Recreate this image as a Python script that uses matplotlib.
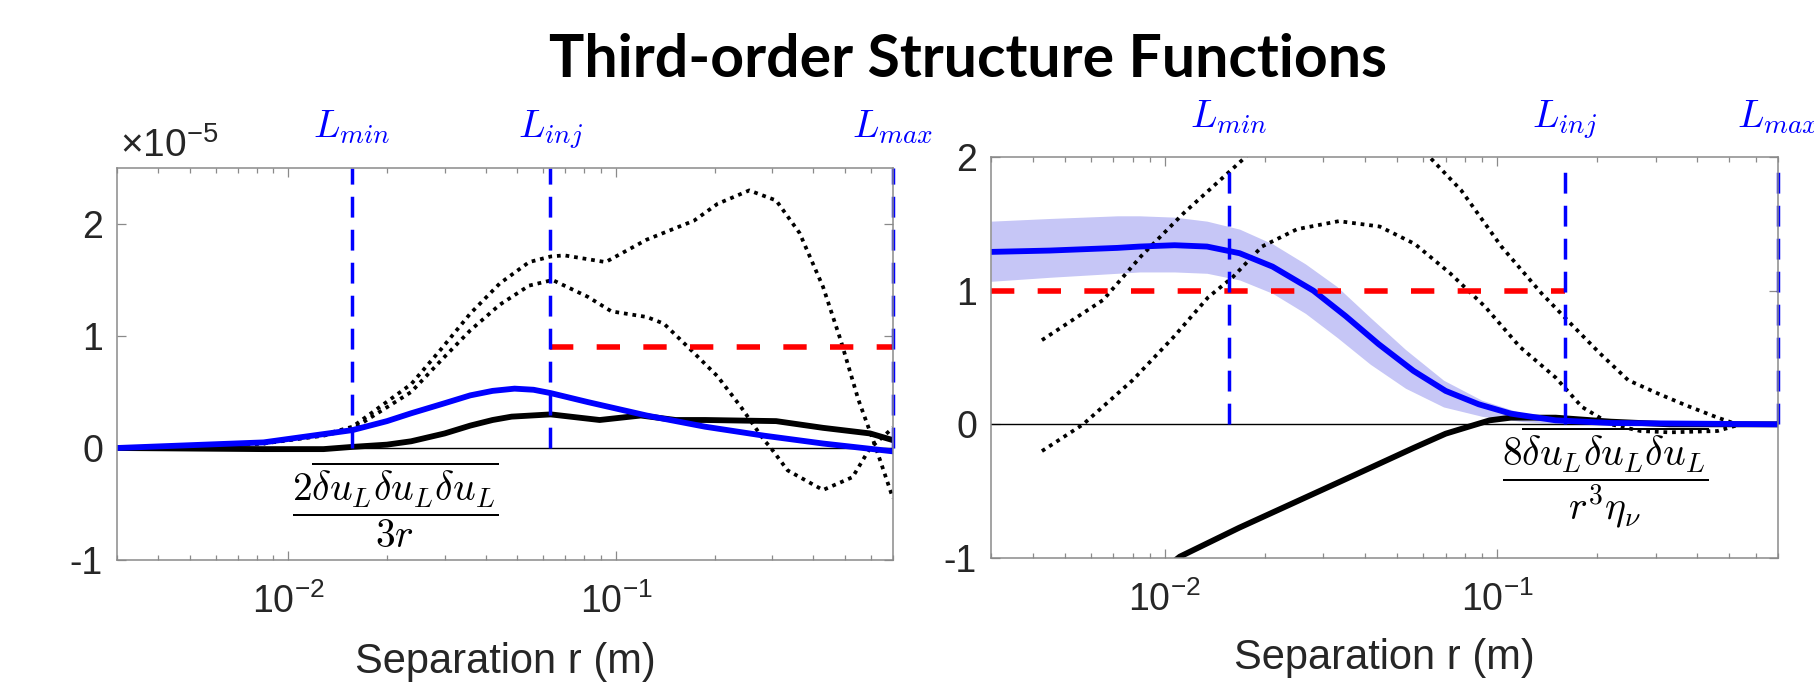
import numpy as np
import matplotlib

matplotlib.use("Agg")
import matplotlib.pyplot as plt
from matplotlib.ticker import FixedLocator, LogLocator, NullFormatter
from matplotlib.transforms import Bbox, TransformedBbox, blended_transform_factory

plt.rcParams["font.family"] = ["Liberation Sans", "DejaVu Sans"]
plt.rcParams["mathtext.fontset"] = "cm"

W, H = 1815, 686

# ── data ────────────────────────────────────────────────────────────────────
TITLE = "Third-order Structure Functions"
XLABEL = "Separation r (m)"
XLIM = (0.003, 0.70)
XTICKS = [1e-2, 1e-1]
XTICKLABELS = [r"$\mathregular{10^{-2}}$", r"$\mathregular{10^{-1}}$"]
L_NAMES = [r"$L_{min}$", r"$L_{inj}$", r"$L_{max}$"]

# left panel (values in units of 1e-5)
L_SCALES = [0.0156, 0.063, 0.70]
left_red_level = 0.9
left_blue_x = [0.0030, 0.0084, 0.0157, 0.0200, 0.0237, 0.0300, 0.0359, 0.0420,
               0.0490, 0.0560, 0.0632, 0.0820, 0.124, 0.187, 0.283, 0.428, 0.70]
left_blue_y = [0.00, 0.05, 0.16, 0.24, 0.31, 0.40, 0.47, 0.51,
               0.53, 0.52, 0.49, 0.41, 0.29, 0.19, 0.11, 0.04, -0.03]
left_black_x = [0.0030, 0.0084, 0.0128, 0.0157, 0.0200, 0.0237, 0.0300, 0.0359,
                0.0420, 0.0480, 0.0632, 0.0891, 0.119, 0.152, 0.187, 0.308,
                0.428, 0.596, 0.70]
left_black_y = [0.00, -0.01, -0.01, 0.01, 0.03, 0.06, 0.13, 0.20,
                0.25, 0.28, 0.30, 0.25, 0.29, 0.25, 0.25, 0.24,
                0.18, 0.13, 0.07]
left_dotA_x = [0.0030, 0.0046, 0.0084, 0.0128, 0.0157, 0.0237, 0.0292, 0.0359,
               0.0442, 0.0543, 0.0632, 0.0695, 0.0929, 0.124, 0.173, 0.204,
               0.255, 0.308, 0.363, 0.428, 0.485, 0.549, 0.621, 0.70]
left_dotA_y = [0.00, 0.01, 0.04, 0.12, 0.19, 0.57, 0.88, 1.20,
               1.47, 1.66, 1.71, 1.72, 1.66, 1.86, 2.03, 2.18,
               2.30, 2.21, 1.92, 1.44, 0.96, 0.43, 0.00, -0.45]
left_dotB_x = [0.0030, 0.0046, 0.0084, 0.0128, 0.0157, 0.0237, 0.0292, 0.0359,
               0.0442, 0.0543, 0.0640, 0.0820, 0.0968, 0.124, 0.140, 0.166,
               0.204, 0.240, 0.283, 0.295, 0.334, 0.428, 0.527, 0.596, 0.70]
left_dotB_y = [0.00, 0.01, 0.04, 0.11, 0.17, 0.50, 0.78, 1.05,
               1.28, 1.45, 1.50, 1.35, 1.22, 1.17, 1.11, 0.90,
               0.64, 0.37, 0.07, 0.01, -0.20, -0.375, -0.26, 0.00, 0.18]

# right panel
R_SCALES = [0.0156, 0.160, 0.70]
right_red_level = 1.0
right_blue_x = [0.0030, 0.0045, 0.0072, 0.0084, 0.0107, 0.0134, 0.0168, 0.0211,
                0.0280, 0.0350, 0.0440, 0.0560, 0.0700, 0.0880, 0.110, 0.150,
                0.220, 0.70]
right_blue_y = [1.29, 1.30, 1.32, 1.33, 1.34, 1.33, 1.28, 1.18,
                1.00, 0.81, 0.60, 0.40, 0.25, 0.15, 0.08, 0.03,
                0.01, 0.00]
band_x = [0.0030, 0.0045, 0.0072, 0.0084, 0.0107, 0.0134, 0.0168, 0.0211,
          0.0265, 0.0330, 0.0415, 0.0530, 0.0690, 0.0900, 0.120, 0.160, 0.25, 0.70]
band_hi = [1.52, 1.54, 1.56, 1.56, 1.55, 1.52, 1.46, 1.35,
           1.20, 1.03, 0.80, 0.56, 0.33, 0.18, 0.08, 0.03, 0.01, 0.00]
band_lo = [1.07, 1.10, 1.13, 1.14, 1.14, 1.13, 1.08, 0.98,
           0.83, 0.65, 0.45, 0.27, 0.13, 0.06, 0.02, 0.00, 0.00, 0.00]
right_black_x = [0.0100, 0.0111, 0.0167, 0.0250, 0.0375, 0.0560, 0.0700, 0.0840,
                 0.0950, 0.110, 0.150, 0.220, 0.330, 0.70]
right_black_y = [-1.08, -0.99, -0.775, -0.576, -0.376, -0.177, -0.07, -0.01,
                 0.03, 0.05, 0.05, 0.02, 0.00, 0.00]
right_dotC_x = [0.00427, 0.00652, 0.0085, 0.0114, 0.0175, 0.0230, 0.0322, 0.0450,
                0.0626, 0.0780, 0.103, 0.136, 0.167, 0.204, 0.248, 0.305, 0.372,
                0.461, 0.520, 0.70]
right_dotC_y = [0.63, 0.93, 1.26, 1.58, 2.00, 2.40, 2.60, 2.40,
                2.00, 1.75, 1.33, 0.98, 0.75, 0.53, 0.33, 0.23, 0.14,
                0.05, 0.005, 0.00]
right_dotD_x = [0.00427, 0.00568, 0.0080, 0.0106, 0.0135, 0.0160, 0.0196, 0.0250,
                0.0334, 0.0443, 0.0565, 0.0722, 0.0920, 0.117, 0.150, 0.180,
                0.220, 0.270, 0.330, 0.460, 0.540, 0.70]
right_dotD_y = [-0.20, 0.00, 0.33, 0.65, 0.95, 1.10, 1.33, 1.46,
                1.52, 1.48, 1.35, 1.13, 0.88, 0.58, 0.35, 0.13,
                0.00, -0.05, -0.06, -0.05, 0.00, 0.00]

BLUE = "#0000ff"
RED = "#ff0000"
BAND = "#c6c6f6"
AXCOL = "#8a8a8a"
TXTCOL = "#262626"


def px_rect(x0, y0, x1, y1):
    return [x0 / W, 1 - y1 / H, (x1 - x0) / W, (y1 - y0) / H]


def style_axes(ax, ylim, yticks):
    ax.set_xscale("log")
    ax.set_xlim(*XLIM)
    ax.set_ylim(*ylim)
    ax.xaxis.set_major_locator(FixedLocator(XTICKS))
    ax.set_xticklabels(XTICKLABELS)
    ax.xaxis.set_minor_locator(LogLocator(base=10, subs=np.arange(2, 10)))
    ax.xaxis.set_minor_formatter(NullFormatter())
    ax.set_yticks(yticks)
    ax.set_yticklabels([str(t) for t in yticks])
    ax.tick_params(which="both", direction="in", top=True, right=True,
                   color=AXCOL, width=0.9, labelcolor=TXTCOL, labelsize=27)
    ax.tick_params(which="major", length=6.5)
    ax.tick_params(which="minor", length=3.6)
    ax.tick_params(axis="y", pad=10)
    ax.tick_params(axis="x", pad=17)
    for sp in ax.spines.values():
        sp.set_color(AXCOL)
        sp.set_linewidth(1.1)


fig = plt.figure(figsize=(W / 100, H / 100), dpi=100)
fig.text(968 / W, 1 - 60 / H, TITLE, ha="center", va="center",
         fontsize=42.5, fontweight="bold", family=["Lato", "DejaVu Sans"])

dot = (0, (1, 1.3))
vdash = (6, 3.5)

# ── left panel ──────────────────────────────────────────────────────────────
ax1 = fig.add_axes(px_rect(117, 168, 893, 560))
style_axes(ax1, (-1, 2.5), [-1, 0, 1, 2])
ax1.axhline(0, color="k", lw=1.0)
ax1.plot(left_dotA_x, left_dotA_y, color="k", lw=2.7, ls=dot)
ax1.plot(left_dotB_x, left_dotB_y, color="k", lw=2.7, ls=dot)
ax1.plot(left_black_x, left_black_y, color="k", lw=4.2, solid_capstyle="round")
ax1.plot(left_blue_x, left_blue_y, color=BLUE, lw=4.2)
ax1.plot([L_SCALES[1], XLIM[1]], [left_red_level] * 2, color=RED, lw=4.0,
         dashes=(4.2, 4.2))
for xv in L_SCALES:
    ax1.plot([xv, xv], [0, 2.5], color=BLUE, lw=2.5, dashes=vdash, clip_on=False)
ax1.set_xlabel(XLABEL, fontsize=30, color=TXTCOL, va="baseline")
ax1.xaxis.set_label_coords(505 / W, 1 - 673 / H, transform=fig.transFigure)

clip = TransformedBbox(Bbox([[0, 0], [933 / W, 1]]), fig.transFigure)
tr1 = blended_transform_factory(ax1.transData, fig.transFigure)
for xv, name in zip(L_SCALES, L_NAMES):
    t = fig.text(xv, 1 - 137 / H, name, transform=tr1, ha="center", va="baseline",
                 fontsize=28, color=BLUE)
    t.set_clip_box(clip)
    t.set_clip_on(True)

fig.text(120 / W, 1 - 157 / H, r"$\mathregular{\times10^{-5}}$", ha="left",
         va="baseline", fontsize=28, color=TXTCOL)
fig.text(395 / W, 1 - 505 / H,
         r"$\dfrac{2\overline{\delta u_L\delta u_L\delta u_L}}{3r}$",
         ha="center", va="center", fontsize=28.5, color="k")

# ── right panel ─────────────────────────────────────────────────────────────
ax2 = fig.add_axes(px_rect(991, 157, 1778, 558))
style_axes(ax2, (-1, 2), [-1, 0, 1, 2])
ax2.fill_between(band_x, band_lo, band_hi, color=BAND, lw=0)
ax2.axhline(0, color="k", lw=1.0)
ax2.plot(right_dotC_x, right_dotC_y, color="k", lw=2.7, ls=dot)
ax2.plot(right_dotD_x, right_dotD_y, color="k", lw=2.7, ls=dot)
ax2.plot(right_black_x, right_black_y, color="k", lw=4.2)
ax2.plot(right_blue_x, right_blue_y, color=BLUE, lw=4.2)
ax2.plot([XLIM[0], R_SCALES[1]], [right_red_level] * 2, color=RED, lw=4.0,
         dashes=(4.2, 4.2))
for xv in R_SCALES:
    ax2.plot([xv, xv], [0, 1.92], color=BLUE, lw=2.5, dashes=vdash, clip_on=False)
ax2.set_xlabel(XLABEL, fontsize=30, color=TXTCOL, va="baseline")
ax2.xaxis.set_label_coords(1384 / W, 1 - 669 / H, transform=fig.transFigure)

tr2 = blended_transform_factory(ax2.transData, fig.transFigure)
for xv, name in zip(R_SCALES, L_NAMES):
    fig.text(xv, 1 - 127 / H, name, transform=tr2, ha="center", va="baseline",
             fontsize=28, color=BLUE)

fig.text(1605 / W, 1 - 477 / H,
         r"$\dfrac{8\overline{\delta u_L\delta u_L\delta u_L}}{r^3\eta_\nu}$",
         ha="center", va="center", fontsize=28.5, color="k")

fig.savefig("out.png", dpi=100)
